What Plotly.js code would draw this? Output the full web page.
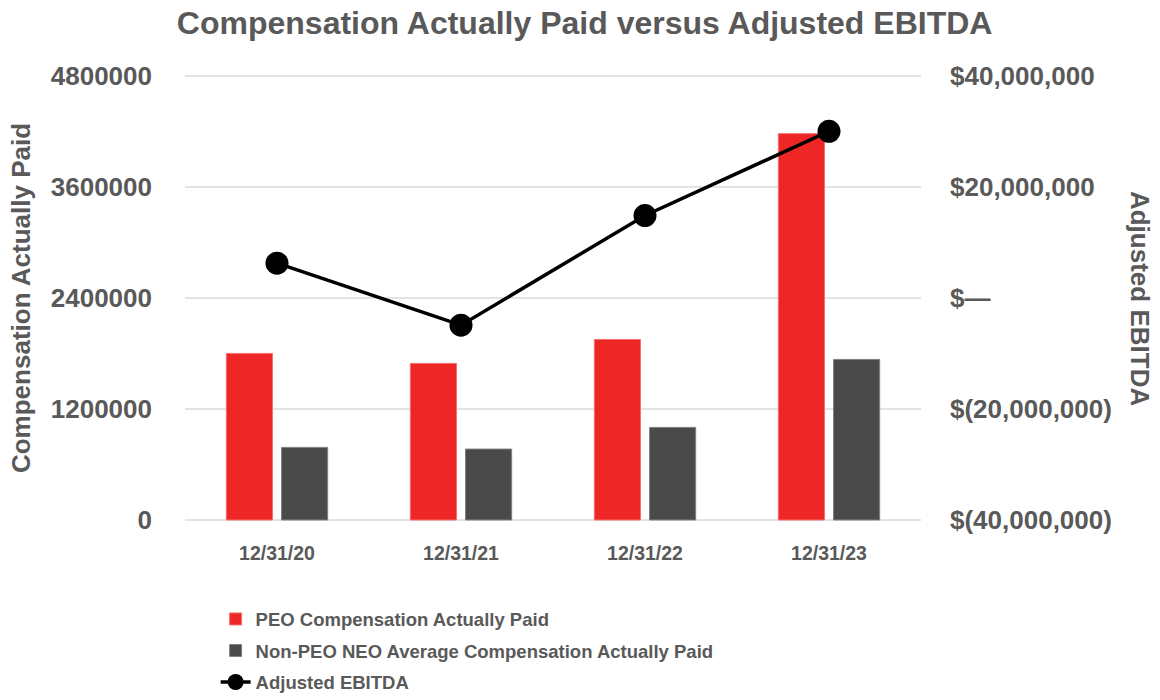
<!DOCTYPE html>
<html>
<head>
<meta charset="utf-8">
<script src="https://cdn.plot.ly/plotly-3.0.1.min.js"></script>
<style>html,body{margin:0;padding:0;background:#fff;}#chart{width:1160px;height:700px;}</style>
</head>
<body>
<div id="chart"></div>
<script>
const categories = ['12/31/20', '12/31/21', '12/31/22', '12/31/23'];
const peoCap = [1801000, 1693000, 1952000, 4177000];
const nonPeoCap = [785000, 767000, 1001000, 1736000];
const adjustedEbitda = [6270000, -4890000, 14860000, 30040000];
const leftTickVals = [0, 1200000, 2400000, 3600000, 4800000];
const leftTickText = ['0', '1200000', '2400000', '3600000', '4800000'];
const rightTickVals = [-40000000, -20000000, 0, 20000000, 40000000];
const rightTickText = ['$(40,000,000)', '$(20,000,000)', '$\u2014', '$20,000,000', '$40,000,000'];

const GRAY = '#595959';
const BOLD = 'Liberation Sans, Arial, sans-serif';

const traces = [
  {
    type: 'bar', name: 'PEO Compensation Actually Paid', legendgroup: 'peo',
    x: categories, y: peoCap,
    marker: {color: '#EE2726', line: {color: '#F47070', width: 1}},
    hoverinfo: 'x+y'
  },
  {
    type: 'bar', name: 'Non-PEO NEO Average Compensation Actually Paid', legendgroup: 'neo',
    x: categories, y: nonPeoCap,
    marker: {color: '#4A4A4A', line: {color: '#808080', width: 1}},
    hoverinfo: 'x+y'
  },
  {
    type: 'scatter', mode: 'lines+markers', name: 'Adjusted EBITDA', legendgroup: 'ebitda',
    x: categories, y: adjustedEbitda, yaxis: 'y2',
    line: {color: '#000000', width: 3.5},
    marker: {color: '#000000', size: 23}
  }
];

const layout = {
  width: 1160, height: 700,
  margin: {l: 185, r: 239, t: 73, b: 177, autoexpand: false},
  paper_bgcolor: '#ffffff', plot_bgcolor: '#ffffff',
  font: {family: BOLD, color: GRAY, size: 20, weight: 'bold'},
  title: {
    text: '<b>Compensation Actually Paid versus Adjusted EBITDA</b>',
    font: {family: BOLD, size: 32, color: GRAY},
    x: 0.504, xanchor: 'center', y: 0.968, yanchor: 'middle'
  },
  barmode: 'group', bargap: 0.4, bargroupgap: 0.164,
  showlegend: true,
  legend: {
    orientation: 'v', x: 0.0416, xanchor: 'left', y: -0.172, yanchor: 'top',
    font: {family: BOLD, size: 18.5, color: GRAY, weight: 'bold'},
    tracegroupgap: 4.5, itemwidth: 30, bgcolor: 'rgba(0,0,0,0)'
  },
  xaxis: {
    type: 'category', automargin: false,
    showgrid: false, zeroline: false, showline: false, ticks: '',
    ticklabelstandoff: 16,
    tickfont: {family: BOLD, size: 19.5, color: GRAY, weight: 'bold'}
  },
  yaxis: {
    range: [-32500, 4832500], automargin: false,
    tickvals: leftTickVals, ticktext: leftTickText,
    showgrid: true, gridcolor: '#E3E3E3', gridwidth: 1.5,
    zeroline: false, showline: false, ticks: '',
    ticklabelstandoff: 32,
    tickfont: {family: BOLD, size: 26, color: GRAY, weight: 'bold'},
    title: {text: '<b>Compensation Actually Paid</b>', font: {family: BOLD, size: 26, color: GRAY}, standoff: 12}
  },
  yaxis2: {
    range: [-40541667, 40541667], overlaying: 'y', side: 'right', automargin: false,
    tickvals: rightTickVals, ticktext: rightTickText,
    showgrid: false, zeroline: false, showline: false, ticks: '',
    ticklabelstandoff: 28,
    tickfont: {family: BOLD, size: 26, color: GRAY, weight: 'bold'}
  },
  annotations: [
    {
      text: '<b>Adjusted EBITDA</b>', xref: 'paper', yref: 'paper',
      x: 1.2976, y: 0.5, xanchor: 'center', yanchor: 'middle',
      textangle: 90, showarrow: false,
      font: {family: BOLD, size: 26, color: GRAY}
    }
  ]
};

Plotly.newPlot('chart', traces, layout, {displayModeBar: false, responsive: false});
</script>
</body>
</html>
